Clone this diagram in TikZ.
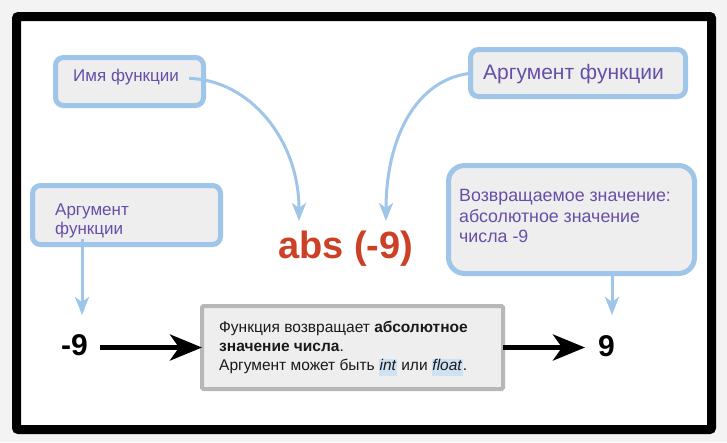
\documentclass[tikz,border=0pt]{standalone}
\usepackage{fontspec}
\setmainfont{Liberation Sans}
\usetikzlibrary{arrows.meta}
\definecolor{bggray}{HTML}{F3F3F3}
\definecolor{lblue}{HTML}{9FC5E8}
\definecolor{boxfill}{HTML}{EEEEEE}
\definecolor{grayedge}{HTML}{B7B7B7}
\definecolor{purp}{HTML}{674EA7}
\definecolor{absred}{HTML}{CC4125}
\definecolor{hlblue}{HTML}{CFE2F3}
\definecolor{txt}{HTML}{1A1A1A}
\newcommand\hlword[1]{{\setlength{\fboxsep}{0pt}\colorbox{hlblue}{\rule[-6pt]{0pt}{17pt}\hspace{0.5pt}#1\hspace{0.5pt}}}}
\tikzset{
  bluebox/.style={draw=lblue, fill=boxfill, line width=5pt, rounded corners=8pt, inner sep=0pt},
  graybox/.style={draw=grayedge, fill=boxfill, line width=4pt, rounded corners=1.5pt, inner sep=0pt},
  lbl/.style={anchor=base west, inner sep=0pt, text=purp},
  bodytxt/.style={anchor=base west, inner sep=0pt, text=txt, font=\fontsize{15.5}{18}\selectfont},
  bluearrow/.style={draw=lblue, line width=3pt, -{Stealth[length=18pt,width=14pt,inset=5pt]}},
  blackarrow/.style={draw=black, line width=5pt, -{Stealth[length=32pt,width=26pt,inset=9pt]}},
  bignum/.style={anchor=base west, inner sep=0pt, font=\fontsize{30}{32}\selectfont\bfseries},
}
\begin{document}
\begin{tikzpicture}[x=1pt,y=-1pt]
\useasboundingbox (0,0) rectangle (727,442);
\fill[bggray] (0,0) rectangle (727,442);
\draw[line width=9pt, fill=white, rounded corners=2pt] (16.5,16.5) rectangle (711.5,429.5);

% boxes
\node[bluebox, minimum width=148pt, minimum height=48pt] (b1) at (129.5,81.5) {};
\node[bluebox, minimum width=215pt, minimum height=47pt] (b2) at (578,73) {};
\node[bluebox, minimum width=188pt, minimum height=59pt] (b3) at (126.5,215) {};
\node[bluebox, minimum width=246pt, minimum height=108pt, rounded corners=16pt] (b4) at (571.5,219.5) {};
\node[graybox, minimum width=301pt, minimum height=83pt] (b5) at (352.5,347.5) {};

% labels
\node[lbl, font=\fontsize{17}{20}\selectfont] (t1) at (73,81) {Имя функции};
\node[lbl, font=\fontsize{21}{25}\selectfont] (t2) at (483,79) {Аргумент функции};
\node[lbl, font=\fontsize{17}{20}\selectfont] (t3a) at (55,215) {Аргумент};
\node[lbl, font=\fontsize{17}{20}\selectfont] (t3b) at (55,234) {функции};
\node[lbl, font=\fontsize{17.8}{21}\selectfont] (t4a) at (459,201) {Возвращаемое значение:};
\node[lbl, font=\fontsize{17.8}{21}\selectfont] (t4b) at (459,222) {абсолютное значение};
\node[lbl, font=\fontsize{17.8}{21}\selectfont] (t4c) at (459,242) {числа -9};

\node[bodytxt] (t5a) at (219,332) {Функция возвращает \textbf{абсолютное}};
\node[bodytxt] (t5b) at (219,351) {\textbf{значение числа}.};
\node[bodytxt] (t5c) at (219,370) {Аргумент может быть \hlword{\textit{int}} или \hlword{\textit{float}}.};

\node[anchor=base west, inner sep=0pt, text=absred, font=\fontsize{38}{40}\selectfont\bfseries] (abs) at (278,258) {abs (-9)};
\node[bignum] (m9) at (61,355) {-9};
\node[bignum] (n9) at (598,356) {9};

% free ends
\coordinate (c1) at (299,221);
\coordinate (c2) at (386,221);
\coordinate (a3e) at (82,315);
\coordinate (a4e) at (612,315);

% connectors
\draw[bluearrow] ([xshift=10pt]t1.mid east) .. controls (250,80) and (299,140) .. (c1);
\draw[bluearrow] ([xshift=5pt]b2.west) .. controls (415,78) and (386,140) .. (c2);
\draw[bluearrow] ([yshift=8pt]b3.south -| a3e) -- (a3e);
\draw[bluearrow] (b4.south -| a4e) -- (a4e);
\draw[blackarrow] ([xshift=12pt]m9.east |- b5.west) -- ([xshift=2pt]b5.west);
\draw[blackarrow] ([xshift=-2pt]b5.east) -- ([xshift=-13pt]n9.west |- b5.east);
\end{tikzpicture}
\end{document}
